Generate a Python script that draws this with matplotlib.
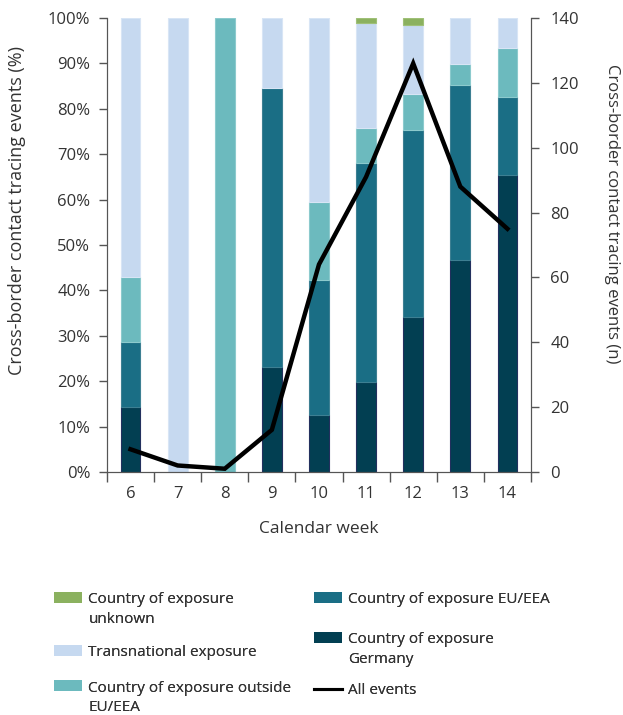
import matplotlib.pyplot as plt
import matplotlib.patches as mpatches
from matplotlib.legend_handler import HandlerPatch
import numpy as np

plt.rcParams['font.family'] = ['Open Sans', 'DejaVu Sans']

weeks = ['6', '7', '8', '9', '10', '11', '12', '13', '14']
germany = [1, 0, 0, 3, 8, 18, 43, 41, 49]
eu_eea = [1, 0, 0, 8, 19, 44, 52, 34, 13]
outside_eu = [1, 0, 1, 0, 11, 7, 10, 4, 8]
transnational = [4, 2, 0, 2, 26, 21, 19, 9, 5]
unknown = [0, 0, 0, 0, 0, 1, 2, 0, 0]
all_events = [7, 2, 1, 13, 64, 91, 126, 88, 75]

series = [
    ("Country of exposure\nGermany", germany, '#023f52', '#23305e'),
    ("Country of exposure EU/EEA", eu_eea, '#1a6e85', '#3d7f92'),
    ("Country of exposure outside\nEU/EEA", outside_eu, '#6cbabe', '#8ccacd'),
    ("Transnational exposure", transnational, '#c6d9f0', '#d8e5f5'),
    ("Country of exposure\nunknown", unknown, '#8bb15f', '#9fc077'),
]

fig = plt.figure(figsize=(6.23, 7.15), dpi=100)
ax = fig.add_axes([0.1717, 0.3399, 0.6806, 0.6349])
ax2 = ax.twinx()

x = np.arange(len(weeks))
total = np.array(all_events, dtype=float)
bottom = np.zeros(len(weeks))
handles = {}
for label, vals, col, edge in series:
    pct = np.array(vals) / total * 100
    lw = np.where(pct > 0, 0.8, 0)
    ax.bar(x, pct, width=0.42, bottom=bottom, color=col, edgecolor=edge, linewidth=lw)
    handles[label] = mpatches.Patch(facecolor=col, edgecolor='none')
    bottom += pct

line, = ax2.plot(x, all_events, color='black', linewidth=3.2, solid_joinstyle='miter')

ax.set_xlim(-0.5, len(weeks) - 0.5)
ax.set_ylim(0, 100)
ax2.set_ylim(0, 140)
ax.set_yticks(np.arange(0, 101, 10))
ax.set_yticklabels([f'{v}%' for v in range(0, 101, 10)])
ax2.set_yticks(np.arange(0, 141, 20))

ax.set_xticks(np.arange(-0.5, len(weeks)), minor=False)
ax.set_xticklabels([])
ax.set_xticks(x, minor=True)
ax.set_xticklabels(weeks, minor=True)
ax.tick_params(axis='x', which='minor', length=0, pad=10)
ax.tick_params(axis='x', which='major', length=7, width=1, color='#555555')

for a in (ax, ax2):
    for s in a.spines.values():
        s.set_color('#555555')
    a.spines['top'].set_visible(False)
    a.tick_params(axis='y', length=6, width=1, color='#555555', labelsize=12, labelcolor='#333333')
    a.tick_params(axis='x', which='both', labelsize=12, labelcolor='#333333')
ax.tick_params(axis='y', pad=6)
ax2.tick_params(axis='y', pad=8)

ax.set_ylabel('Cross-border contact tracing events (%)', fontsize=13, color='#333333', va='center', ha='center')
ax.yaxis.set_label_coords(-0.212, 0.577)
ax2.set_ylabel('Cross-border contact tracing events (n)', fontsize=12, color='#333333', rotation=270,
               va='center', ha='center')
ax2.yaxis.set_label_coords(1.191, 0.568)
ax.set_xlabel('Calendar week', fontsize=12.5, color='#333333', labelpad=14)


# patch sits next to the first line of a two-line label
def first_line_patch(legend, orig_handle, xdescent, ydescent, width, height, fontsize):
    return mpatches.Rectangle((-xdescent, -ydescent + 0.8 * fontsize), width, height)


W, H = 623.0, 715.0
# (label, handle, patch left px, text top px, line spacing)
legend_items = [
    ("Country of exposure\nunknown", handles["Country of exposure\nunknown"], 54, 592, 1.45),
    ("Transnational exposure", handles["Transnational exposure"], 54, 645, 1.45),
    ("Country of exposure outside\nEU/EEA", handles["Country of exposure outside\nEU/EEA"], 54, 681, 1.35),
    ("Country of exposure EU/EEA", handles["Country of exposure EU/EEA"], 314, 592, 1.45),
    ("Country of exposure\nGermany", handles["Country of exposure\nGermany"], 314, 632, 1.45),
    ("All events", line, 314, 683, 1.45),
]
for label, h, px, py, ls in legend_items:
    hmap = {h: HandlerPatch(patch_func=first_line_patch)} if '\n' in label else None
    lg = fig.legend([h], [label], loc='upper left', bbox_to_anchor=(px / W, 1 - py / H),
                    frameon=False, fontsize=11, handlelength=1.83, handleheight=0.72,
                    handletextpad=0.42, borderpad=0, borderaxespad=0, labelcolor='#333333',
                    handler_map=hmap)
    for t in lg.get_texts():
        t.set_linespacing(ls)
    if h is line:
        lg.get_lines()[0].set_linewidth(2.2)
    fig.add_artist(lg)

fig.savefig('out.png', dpi=100)
